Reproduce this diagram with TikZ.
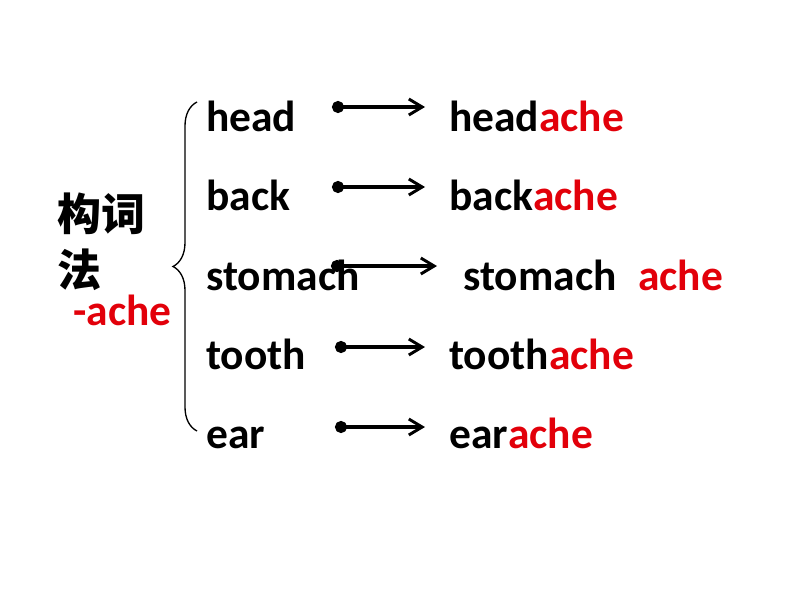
\documentclass[tikz,border=0pt]{standalone}
\usepackage{fontspec}
\setmainfont{Carlito}
\newfontfamily\cjk{Noto Sans CJK SC}
\usetikzlibrary{arrows.meta,decorations.pathreplacing}
\definecolor{acheRed}{RGB}{226,0,10}
\newcommand{\suf}[1]{\textcolor{acheRed}{#1}}
\begin{document}
\begin{tikzpicture}[x=0.75pt,y=-0.75pt,
  word/.style = {inner sep=0pt, anchor=base west, font=\fontsize{32.6}{38}\selectfont\bfseries},
  arr/.style = {line width=2.5pt, {Circle[length=9pt]}-{Straight Barb[length=10pt,width=12pt,line width=2.2pt]}}]
\useasboundingbox (0,0) rectangle (794,596);

\node[word, font=\fontsize{33}{42}\selectfont\cjk\bfseries, align=left, anchor=north west] (0) at (57,193) {构词\\法};
\node[word, text=acheRed] (0a) at (73,325) {-ache};

\node[word] (1) at (206,131) {head};
\node[word] (2) at (206,210) {back};
\node[word] (3) at (206,290) {stomach};
\node[word] (4) at (206,369) {tooth};
\node[word] (5) at (206,448) {ear};

\node[word] (6) at (449,131) {head\suf{ache}};
\node[word] (7) at (449,210) {back\suf{ache}};
\node[word] (8) at (463,290) {stomach};
\node[word, text=acheRed] (8a) at (638,290) {ache};
\node[word] (9) at (449,369) {tooth\suf{ache}};
\node[word] (10) at (449,448) {ear\suf{ache}};

% brace
\coordinate (top) at (197,102);
\coordinate (bot) at (197,431);
\draw[line width=1pt, decorate, decoration={brace, amplitude=18pt}] (bot) -- (top);

% arrows
\coordinate (a1) at (332,107); \coordinate (b1) at (425,107);
\coordinate (a2) at (332,187); \coordinate (b2) at (425,187);
\coordinate (a3) at (331,266); \coordinate (b3) at (437,266);
\coordinate (a4) at (335,347); \coordinate (b4) at (425,347);
\coordinate (a5) at (335,427); \coordinate (b5) at (425,427);
\draw[arr] (a1) -- (b1);
\draw[arr] (a2) -- (b2);
\draw[arr] (a3) -- (b3);
\draw[arr] (a4) -- (b4);
\draw[arr] (a5) -- (b5);

\end{tikzpicture}
\end{document}
